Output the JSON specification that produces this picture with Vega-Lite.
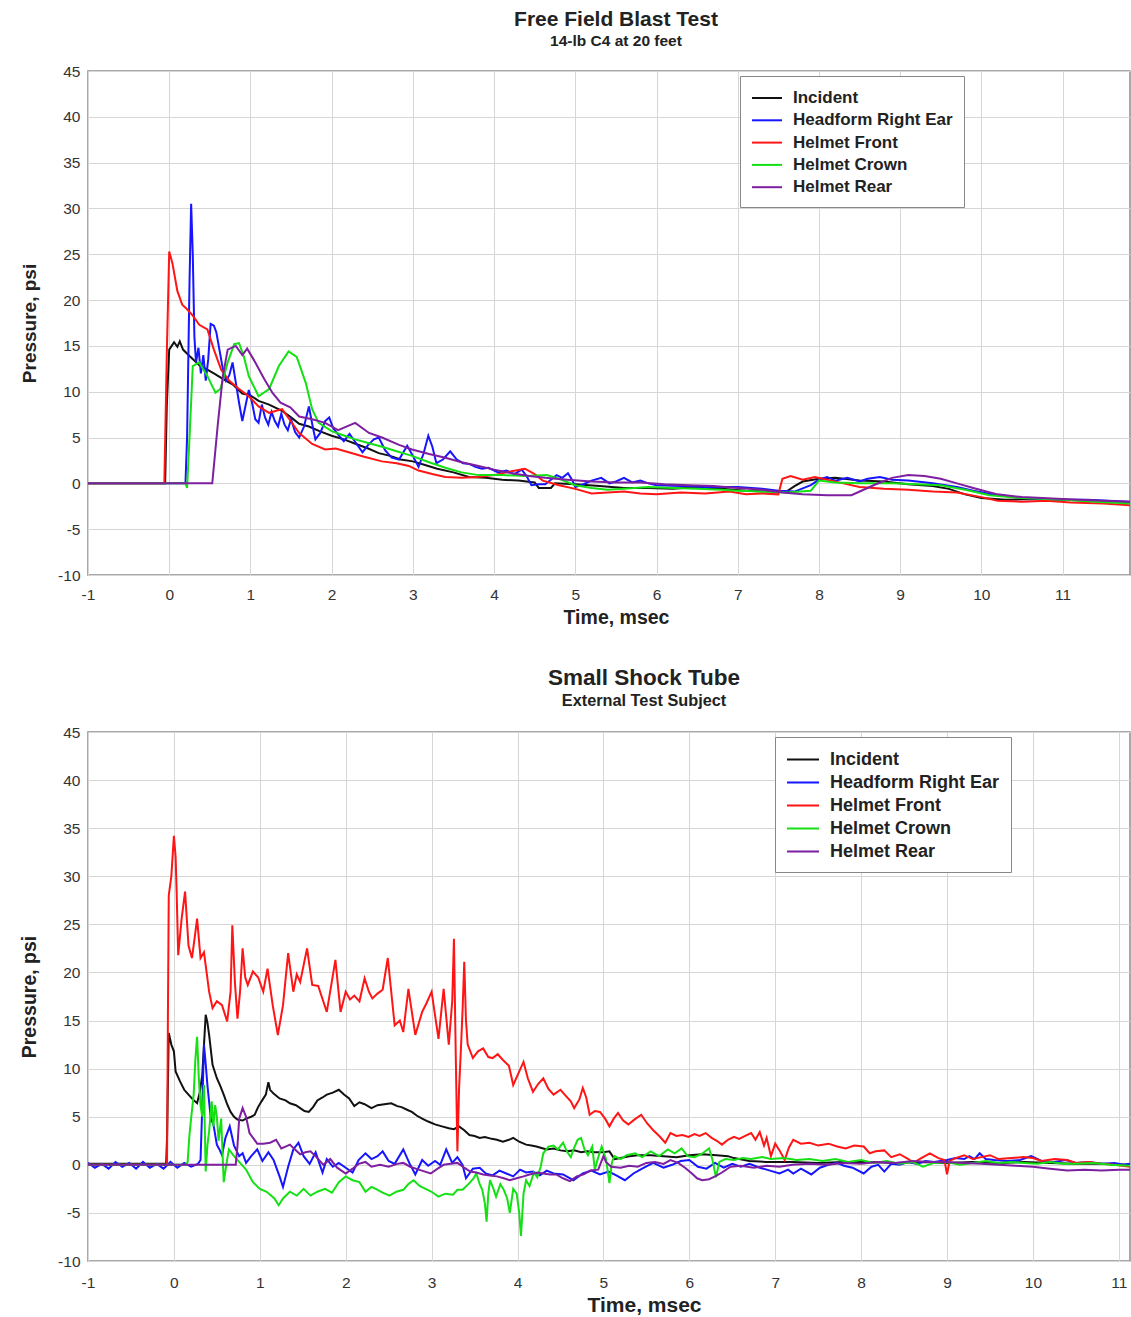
{
"$schema":"https://vega.github.io/schema/vega-lite/v6.json",
"background":"white",
"padding":{"left":18,"top":7,"right":0,"bottom":0},
"spacing":38,
"config":{
"font":"Liberation Sans",
"view":{"stroke":"#8c8c8c","strokeWidth":1.5},
"axis":{"grid":true,"gridColor":"#d6d6d6","gridWidth":1,"ticks":false,"domain":false,"labelColor":"#333333","titleColor":"#222222","titleFontWeight":"bold","labelFontSize":15.5,"labelExpr":"datum.value"},
"title":{"fontWeight":"bold","color":"#222222","subtitleColor":"#222222","subtitleFontWeight":"bold","anchor":"middle"}
},
"datasets":{
"names":[{"k":"A","name":"Incident"},{"k":"B","name":"Headform Right Ear"},{"k":"C","name":"Helmet Front"},{"k":"D","name":"Helmet Crown"},{"k":"E","name":"Helmet Rear"}],
"ff":[
{"k":"A","t":-1,"p":0},{"k":"A","t":-0.05,"p":0},{"k":"A","t":-0.03,"p":8.5},{"k":"A","t":0.0,"p":14.6},{"k":"A","t":0.03,"p":15.0},{"k":"A","t":0.06,"p":15.4},{"k":"A","t":0.1,"p":14.9},{"k":"A","t":0.13,"p":15.5},{"k":"A","t":0.17,"p":14.6},{"k":"A","t":0.25,"p":13.9},{"k":"A","t":0.37,"p":12.9},{"k":"A","t":0.47,"p":12.4},{"k":"A","t":0.57,"p":11.9},{"k":"A","t":0.68,"p":11.3},{"k":"A","t":0.78,"p":10.8},{"k":"A","t":0.9,"p":9.8},{"k":"A","t":1.0,"p":9.6},{"k":"A","t":1.1,"p":9.0},{"k":"A","t":1.23,"p":8.6},{"k":"A","t":1.39,"p":7.9},{"k":"A","t":1.5,"p":7.2},{"k":"A","t":1.6,"p":6.5},{"k":"A","t":1.72,"p":6.2},{"k":"A","t":1.85,"p":5.7},{"k":"A","t":2.0,"p":5.2},{"k":"A","t":2.15,"p":4.8},{"k":"A","t":2.3,"p":4.3},{"k":"A","t":2.45,"p":3.8},{"k":"A","t":2.58,"p":3.3},{"k":"A","t":2.72,"p":3.0},{"k":"A","t":2.85,"p":2.6},{"k":"A","t":3.0,"p":2.4},{"k":"A","t":3.15,"p":2.0},{"k":"A","t":3.3,"p":1.6},{"k":"A","t":3.5,"p":1.2},{"k":"A","t":3.69,"p":0.7},{"k":"A","t":3.9,"p":0.6},{"k":"A","t":4.1,"p":0.4},{"k":"A","t":4.3,"p":0.3},{"k":"A","t":4.5,"p":0.1},{"k":"A","t":4.55,"p":-0.5},{"k":"A","t":4.7,"p":-0.5},{"k":"A","t":4.75,"p":0.0},{"k":"A","t":5.0,"p":-0.1},{"k":"A","t":5.3,"p":-0.3},{"k":"A","t":5.6,"p":-0.5},{"k":"A","t":5.9,"p":-0.5},{"k":"A","t":6.2,"p":-0.6},{"k":"A","t":6.5,"p":-0.4},{"k":"A","t":6.8,"p":-0.6},{"k":"A","t":7.1,"p":-0.8},{"k":"A","t":7.4,"p":-0.9},{"k":"A","t":7.6,"p":-0.9},{"k":"A","t":7.7,"p":-0.3},{"k":"A","t":7.8,"p":0.2},{"k":"A","t":8.0,"p":0.5},{"k":"A","t":8.2,"p":0.6},{"k":"A","t":8.5,"p":0.3},{"k":"A","t":8.8,"p":0.2},{"k":"A","t":9.1,"p":-0.1},{"k":"A","t":9.4,"p":-0.3},{"k":"A","t":9.6,"p":-0.6},{"k":"A","t":9.8,"p":-1.2},{"k":"A","t":10.0,"p":-1.6},{"k":"A","t":10.3,"p":-1.8},{"k":"A","t":10.6,"p":-1.7},{"k":"A","t":11.0,"p":-1.8},{"k":"A","t":11.4,"p":-1.9},{"k":"A","t":11.83,"p":-2.1},
{"k":"B","t":-1,"p":0},{"k":"B","t":0.2,"p":0},{"k":"B","t":0.22,"p":5},{"k":"B","t":0.25,"p":22},{"k":"B","t":0.27,"p":30.5},{"k":"B","t":0.29,"p":25},{"k":"B","t":0.31,"p":16},{"k":"B","t":0.33,"p":13.2},{"k":"B","t":0.36,"p":14.8},{"k":"B","t":0.39,"p":12},{"k":"B","t":0.42,"p":14},{"k":"B","t":0.45,"p":11.2},{"k":"B","t":0.48,"p":13.5},{"k":"B","t":0.51,"p":17.4},{"k":"B","t":0.55,"p":17.2},{"k":"B","t":0.58,"p":16.5},{"k":"B","t":0.62,"p":14.5},{"k":"B","t":0.66,"p":12.5},{"k":"B","t":0.7,"p":11.2},{"k":"B","t":0.74,"p":11.8},{"k":"B","t":0.78,"p":13.2},{"k":"B","t":0.82,"p":11},{"k":"B","t":0.86,"p":8.8},{"k":"B","t":0.9,"p":6.8},{"k":"B","t":0.94,"p":8.5},{"k":"B","t":0.98,"p":10.2},{"k":"B","t":1.02,"p":8.8},{"k":"B","t":1.06,"p":7.0},{"k":"B","t":1.1,"p":6.6},{"k":"B","t":1.14,"p":8.6},{"k":"B","t":1.18,"p":7.2},{"k":"B","t":1.22,"p":6.4},{"k":"B","t":1.26,"p":7.8},{"k":"B","t":1.3,"p":6.8},{"k":"B","t":1.34,"p":6.2},{"k":"B","t":1.38,"p":7.6},{"k":"B","t":1.42,"p":6.4},{"k":"B","t":1.46,"p":5.8},{"k":"B","t":1.5,"p":7.0},{"k":"B","t":1.55,"p":5.6},{"k":"B","t":1.6,"p":5.0},{"k":"B","t":1.66,"p":6.2},{"k":"B","t":1.72,"p":8.4},{"k":"B","t":1.76,"p":6.5},{"k":"B","t":1.8,"p":4.8},{"k":"B","t":1.86,"p":5.5},{"k":"B","t":1.92,"p":6.8},{"k":"B","t":1.97,"p":7.2},{"k":"B","t":2.02,"p":6.0},{"k":"B","t":2.09,"p":5.2},{"k":"B","t":2.15,"p":4.6},{"k":"B","t":2.22,"p":5.4},{"k":"B","t":2.3,"p":4.4},{"k":"B","t":2.38,"p":3.4},{"k":"B","t":2.45,"p":4.2},{"k":"B","t":2.52,"p":4.8},{"k":"B","t":2.58,"p":5.0},{"k":"B","t":2.66,"p":3.6},{"k":"B","t":2.74,"p":2.8},{"k":"B","t":2.83,"p":2.6},{"k":"B","t":2.93,"p":4.1},{"k":"B","t":3.0,"p":3.0},{"k":"B","t":3.07,"p":1.8},{"k":"B","t":3.13,"p":3.2},{"k":"B","t":3.19,"p":5.2},{"k":"B","t":3.24,"p":4.0},{"k":"B","t":3.29,"p":2.2},{"k":"B","t":3.37,"p":2.6},{"k":"B","t":3.46,"p":3.5},{"k":"B","t":3.54,"p":2.6},{"k":"B","t":3.62,"p":2.2},{"k":"B","t":3.7,"p":2.1},{"k":"B","t":3.77,"p":1.8},{"k":"B","t":3.85,"p":1.6},{"k":"B","t":3.93,"p":1.7},{"k":"B","t":4.05,"p":1.2},{"k":"B","t":4.15,"p":1.4},{"k":"B","t":4.25,"p":1.0},{"k":"B","t":4.34,"p":1.5},{"k":"B","t":4.4,"p":0.8},{"k":"B","t":4.46,"p":-0.2},{"k":"B","t":4.55,"p":-0.1},{"k":"B","t":4.63,"p":-0.1},{"k":"B","t":4.7,"p":0.4},{"k":"B","t":4.77,"p":0.9},{"k":"B","t":4.84,"p":0.6},{"k":"B","t":4.91,"p":1.1},{"k":"B","t":4.96,"p":0.4},{"k":"B","t":5.0,"p":-0.4},{"k":"B","t":5.1,"p":-0.1},{"k":"B","t":5.2,"p":0.3},{"k":"B","t":5.32,"p":0.6},{"k":"B","t":5.42,"p":0.0},{"k":"B","t":5.5,"p":0.2},{"k":"B","t":5.6,"p":0.6},{"k":"B","t":5.7,"p":0.1},{"k":"B","t":5.8,"p":0.3},{"k":"B","t":5.9,"p":0.0},{"k":"B","t":6.0,"p":-0.2},{"k":"B","t":6.3,"p":-0.3},{"k":"B","t":6.6,"p":-0.4},{"k":"B","t":7.0,"p":-0.4},{"k":"B","t":7.3,"p":-0.6},{"k":"B","t":7.5,"p":-0.8},{"k":"B","t":7.7,"p":-0.9},{"k":"B","t":7.9,"p":-0.2},{"k":"B","t":8.0,"p":0.4},{"k":"B","t":8.1,"p":0.7},{"k":"B","t":8.2,"p":0.3},{"k":"B","t":8.35,"p":0.6},{"k":"B","t":8.5,"p":0.2},{"k":"B","t":8.6,"p":0.5},{"k":"B","t":8.75,"p":0.7},{"k":"B","t":8.9,"p":0.4},{"k":"B","t":9.1,"p":0.3},{"k":"B","t":9.4,"p":0.0},{"k":"B","t":9.7,"p":-0.4},{"k":"B","t":9.9,"p":-0.8},{"k":"B","t":10.2,"p":-1.3},{"k":"B","t":10.5,"p":-1.6},{"k":"B","t":10.9,"p":-1.8},{"k":"B","t":11.3,"p":-1.8},{"k":"B","t":11.83,"p":-2.0},
{"k":"C","t":-1,"p":0},{"k":"C","t":-0.06,"p":0},{"k":"C","t":-0.03,"p":14},{"k":"C","t":0.0,"p":25.3},{"k":"C","t":0.04,"p":24},{"k":"C","t":0.1,"p":21},{"k":"C","t":0.16,"p":19.5},{"k":"C","t":0.22,"p":19},{"k":"C","t":0.29,"p":18.3},{"k":"C","t":0.37,"p":17.3},{"k":"C","t":0.47,"p":16.8},{"k":"C","t":0.55,"p":14.6},{"k":"C","t":0.64,"p":12.4},{"k":"C","t":0.74,"p":11.2},{"k":"C","t":0.86,"p":10.3},{"k":"C","t":0.98,"p":9.5},{"k":"C","t":1.1,"p":8.4},{"k":"C","t":1.23,"p":7.7},{"k":"C","t":1.39,"p":8.1},{"k":"C","t":1.48,"p":7.0},{"k":"C","t":1.6,"p":5.5},{"k":"C","t":1.76,"p":4.3},{"k":"C","t":1.92,"p":3.7},{"k":"C","t":2.05,"p":3.8},{"k":"C","t":2.21,"p":3.4},{"k":"C","t":2.4,"p":2.9},{"k":"C","t":2.62,"p":2.4},{"k":"C","t":2.8,"p":2.2},{"k":"C","t":2.95,"p":1.9},{"k":"C","t":3.07,"p":1.4},{"k":"C","t":3.25,"p":1.0},{"k":"C","t":3.4,"p":0.7},{"k":"C","t":3.6,"p":0.6},{"k":"C","t":3.8,"p":0.7},{"k":"C","t":4.0,"p":0.9},{"k":"C","t":4.2,"p":1.3},{"k":"C","t":4.38,"p":1.6},{"k":"C","t":4.5,"p":1.0},{"k":"C","t":4.6,"p":0.3},{"k":"C","t":4.8,"p":-0.2},{"k":"C","t":5.0,"p":-0.6},{"k":"C","t":5.2,"p":-1.1},{"k":"C","t":5.4,"p":-1.0},{"k":"C","t":5.6,"p":-0.9},{"k":"C","t":5.8,"p":-1.1},{"k":"C","t":6.0,"p":-1.2},{"k":"C","t":6.3,"p":-1.0},{"k":"C","t":6.6,"p":-1.1},{"k":"C","t":6.9,"p":-0.9},{"k":"C","t":7.1,"p":-1.2},{"k":"C","t":7.3,"p":-1.1},{"k":"C","t":7.5,"p":-1.2},{"k":"C","t":7.55,"p":0.5},{"k":"C","t":7.65,"p":0.8},{"k":"C","t":7.8,"p":0.4},{"k":"C","t":7.95,"p":0.7},{"k":"C","t":8.1,"p":0.4},{"k":"C","t":8.3,"p":0.0},{"k":"C","t":8.5,"p":-0.4},{"k":"C","t":8.8,"p":-0.6},{"k":"C","t":9.1,"p":-0.7},{"k":"C","t":9.4,"p":-0.9},{"k":"C","t":9.7,"p":-1.0},{"k":"C","t":10.0,"p":-1.5},{"k":"C","t":10.2,"p":-1.9},{"k":"C","t":10.5,"p":-2.0},{"k":"C","t":10.8,"p":-1.9},{"k":"C","t":11.1,"p":-2.1},{"k":"C","t":11.5,"p":-2.2},{"k":"C","t":11.83,"p":-2.4},
{"k":"D","t":-1,"p":0},{"k":"D","t":0.2,"p":0},{"k":"D","t":0.22,"p":-0.5},{"k":"D","t":0.25,"p":5},{"k":"D","t":0.29,"p":12.8},{"k":"D","t":0.37,"p":13.2},{"k":"D","t":0.47,"p":11.7},{"k":"D","t":0.57,"p":9.9},{"k":"D","t":0.63,"p":10.3},{"k":"D","t":0.72,"p":13.2},{"k":"D","t":0.8,"p":15.2},{"k":"D","t":0.86,"p":15.3},{"k":"D","t":0.92,"p":13.8},{"k":"D","t":0.98,"p":11.7},{"k":"D","t":1.1,"p":9.5},{"k":"D","t":1.23,"p":10.3},{"k":"D","t":1.35,"p":12.8},{"k":"D","t":1.47,"p":14.4},{"k":"D","t":1.57,"p":13.8},{"k":"D","t":1.68,"p":11.0},{"k":"D","t":1.76,"p":8.1},{"k":"D","t":1.84,"p":6.6},{"k":"D","t":2.0,"p":5.7},{"k":"D","t":2.16,"p":5.2},{"k":"D","t":2.29,"p":4.8},{"k":"D","t":2.45,"p":4.4},{"k":"D","t":2.62,"p":4.0},{"k":"D","t":2.8,"p":3.5},{"k":"D","t":2.99,"p":3.0},{"k":"D","t":3.2,"p":2.3},{"k":"D","t":3.4,"p":1.7},{"k":"D","t":3.6,"p":1.2},{"k":"D","t":3.81,"p":0.9},{"k":"D","t":4.1,"p":0.9},{"k":"D","t":4.4,"p":0.8},{"k":"D","t":4.65,"p":0.9},{"k":"D","t":4.8,"p":0.5},{"k":"D","t":5.0,"p":-0.2},{"k":"D","t":5.2,"p":-0.5},{"k":"D","t":5.4,"p":-0.7},{"k":"D","t":5.6,"p":-0.6},{"k":"D","t":5.9,"p":-0.4},{"k":"D","t":6.2,"p":-0.5},{"k":"D","t":6.5,"p":-0.6},{"k":"D","t":6.8,"p":-0.7},{"k":"D","t":7.0,"p":-0.8},{"k":"D","t":7.3,"p":-0.9},{"k":"D","t":7.6,"p":-1.0},{"k":"D","t":7.9,"p":-0.8},{"k":"D","t":8.0,"p":0.3},{"k":"D","t":8.2,"p":0.1},{"k":"D","t":8.5,"p":0.0},{"k":"D","t":8.9,"p":0.0},{"k":"D","t":9.2,"p":-0.1},{"k":"D","t":9.5,"p":-0.2},{"k":"D","t":9.8,"p":-0.7},{"k":"D","t":10.1,"p":-1.3},{"k":"D","t":10.5,"p":-1.6},{"k":"D","t":11.0,"p":-1.8},{"k":"D","t":11.4,"p":-2.0},{"k":"D","t":11.83,"p":-2.2},
{"k":"E","t":-1,"p":0},{"k":"E","t":0.53,"p":0},{"k":"E","t":0.6,"p":6.6},{"k":"E","t":0.66,"p":11.7},{"k":"E","t":0.72,"p":14.6},{"k":"E","t":0.82,"p":15.0},{"k":"E","t":0.9,"p":14.0},{"k":"E","t":0.96,"p":14.7},{"k":"E","t":1.06,"p":13.2},{"k":"E","t":1.17,"p":11.4},{"k":"E","t":1.27,"p":9.9},{"k":"E","t":1.37,"p":8.8},{"k":"E","t":1.49,"p":8.3},{"k":"E","t":1.6,"p":7.3},{"k":"E","t":1.76,"p":7.0},{"k":"E","t":1.92,"p":6.6},{"k":"E","t":2.08,"p":5.8},{"k":"E","t":2.29,"p":6.6},{"k":"E","t":2.46,"p":5.5},{"k":"E","t":2.62,"p":5.0},{"k":"E","t":2.83,"p":4.2},{"k":"E","t":2.99,"p":3.7},{"k":"E","t":3.2,"p":3.2},{"k":"E","t":3.4,"p":2.8},{"k":"E","t":3.6,"p":2.3},{"k":"E","t":3.81,"p":1.9},{"k":"E","t":4.0,"p":1.5},{"k":"E","t":4.22,"p":1.1},{"k":"E","t":4.43,"p":0.8},{"k":"E","t":4.63,"p":0.6},{"k":"E","t":4.9,"p":0.4},{"k":"E","t":5.2,"p":0.2},{"k":"E","t":5.5,"p":0.1},{"k":"E","t":5.8,"p":0.1},{"k":"E","t":6.1,"p":-0.1},{"k":"E","t":6.4,"p":-0.2},{"k":"E","t":6.7,"p":-0.3},{"k":"E","t":7.0,"p":-0.5},{"k":"E","t":7.3,"p":-0.7},{"k":"E","t":7.55,"p":-1.0},{"k":"E","t":7.8,"p":-1.2},{"k":"E","t":8.1,"p":-1.3},{"k":"E","t":8.4,"p":-1.3},{"k":"E","t":8.55,"p":-0.7},{"k":"E","t":8.7,"p":-0.1},{"k":"E","t":8.9,"p":0.6},{"k":"E","t":9.1,"p":0.9},{"k":"E","t":9.3,"p":0.8},{"k":"E","t":9.5,"p":0.5},{"k":"E","t":9.7,"p":0.0},{"k":"E","t":9.9,"p":-0.5},{"k":"E","t":10.2,"p":-1.2},{"k":"E","t":10.5,"p":-1.5},{"k":"E","t":11.0,"p":-1.7},{"k":"E","t":11.5,"p":-1.9},{"k":"E","t":11.83,"p":-2.0}
],
"st":[
{"k":"A","t":-1,"p":0.1},{"k":"A","t":-0.09,"p":0.1},{"k":"A","t":-0.08,"p":2.8},{"k":"A","t":-0.06,"p":13.7},{"k":"A","t":-0.03,"p":12.5},{"k":"A","t":0.0,"p":11.8},{"k":"A","t":0.02,"p":9.7},{"k":"A","t":0.07,"p":8.7},{"k":"A","t":0.12,"p":7.8},{"k":"A","t":0.17,"p":7.3},{"k":"A","t":0.22,"p":6.8},{"k":"A","t":0.27,"p":6.4},{"k":"A","t":0.3,"p":7.5},{"k":"A","t":0.33,"p":9.3},{"k":"A","t":0.37,"p":15.6},{"k":"A","t":0.39,"p":14.8},{"k":"A","t":0.41,"p":13.5},{"k":"A","t":0.45,"p":10.4},{"k":"A","t":0.5,"p":9.0},{"k":"A","t":0.54,"p":8.2},{"k":"A","t":0.58,"p":7.3},{"k":"A","t":0.62,"p":6.3},{"k":"A","t":0.66,"p":5.5},{"k":"A","t":0.7,"p":5.0},{"k":"A","t":0.74,"p":4.7},{"k":"A","t":0.8,"p":4.6},{"k":"A","t":0.84,"p":4.8},{"k":"A","t":0.9,"p":5.0},{"k":"A","t":0.94,"p":5.2},{"k":"A","t":0.98,"p":6.0},{"k":"A","t":1.02,"p":6.6},{"k":"A","t":1.07,"p":7.3},{"k":"A","t":1.1,"p":8.6},{"k":"A","t":1.12,"p":7.8},{"k":"A","t":1.16,"p":7.4},{"k":"A","t":1.23,"p":6.9},{"k":"A","t":1.3,"p":6.7},{"k":"A","t":1.35,"p":6.4},{"k":"A","t":1.42,"p":6.2},{"k":"A","t":1.47,"p":5.9},{"k":"A","t":1.52,"p":5.6},{"k":"A","t":1.57,"p":5.5},{"k":"A","t":1.62,"p":6.0},{"k":"A","t":1.67,"p":6.7},{"k":"A","t":1.73,"p":7.0},{"k":"A","t":1.78,"p":7.3},{"k":"A","t":1.85,"p":7.5},{"k":"A","t":1.92,"p":7.8},{"k":"A","t":1.98,"p":7.3},{"k":"A","t":2.04,"p":6.9},{"k":"A","t":2.1,"p":6.1},{"k":"A","t":2.16,"p":6.5},{"k":"A","t":2.22,"p":6.3},{"k":"A","t":2.3,"p":5.9},{"k":"A","t":2.37,"p":6.2},{"k":"A","t":2.45,"p":6.3},{"k":"A","t":2.53,"p":6.4},{"k":"A","t":2.6,"p":6.1},{"k":"A","t":2.65,"p":6.0},{"k":"A","t":2.72,"p":5.7},{"k":"A","t":2.77,"p":5.5},{"k":"A","t":2.83,"p":5.1},{"k":"A","t":2.89,"p":4.8},{"k":"A","t":2.96,"p":4.5},{"k":"A","t":3.04,"p":4.2},{"k":"A","t":3.12,"p":4.0},{"k":"A","t":3.2,"p":3.8},{"k":"A","t":3.26,"p":3.7},{"k":"A","t":3.32,"p":4.0},{"k":"A","t":3.38,"p":3.6},{"k":"A","t":3.44,"p":3.1},{"k":"A","t":3.5,"p":3.0},{"k":"A","t":3.56,"p":2.8},{"k":"A","t":3.62,"p":2.9},{"k":"A","t":3.7,"p":2.7},{"k":"A","t":3.76,"p":2.6},{"k":"A","t":3.83,"p":2.4},{"k":"A","t":3.9,"p":2.6},{"k":"A","t":3.95,"p":2.8},{"k":"A","t":4.02,"p":2.4},{"k":"A","t":4.1,"p":2.1},{"k":"A","t":4.16,"p":2.0},{"k":"A","t":4.22,"p":1.9},{"k":"A","t":4.3,"p":1.7},{"k":"A","t":4.34,"p":1.6},{"k":"A","t":4.42,"p":1.7},{"k":"A","t":4.5,"p":1.5},{"k":"A","t":4.58,"p":1.4},{"k":"A","t":4.66,"p":1.5},{"k":"A","t":4.74,"p":1.3},{"k":"A","t":4.81,"p":1.4},{"k":"A","t":4.9,"p":1.3},{"k":"A","t":5.0,"p":1.3},{"k":"A","t":5.07,"p":1.4},{"k":"A","t":5.13,"p":0.6},{"k":"A","t":5.2,"p":0.7},{"k":"A","t":5.3,"p":0.9},{"k":"A","t":5.4,"p":1.0},{"k":"A","t":5.55,"p":1.0},{"k":"A","t":5.7,"p":0.9},{"k":"A","t":5.85,"p":0.8},{"k":"A","t":6.0,"p":1.0},{"k":"A","t":6.15,"p":1.1},{"k":"A","t":6.32,"p":1.0},{"k":"A","t":6.45,"p":0.9},{"k":"A","t":6.52,"p":0.7},{"k":"A","t":6.7,"p":0.4},{"k":"A","t":6.9,"p":0.3},{"k":"A","t":7.2,"p":0.3},{"k":"A","t":7.5,"p":0.2},{"k":"A","t":7.8,"p":0.3},{"k":"A","t":8.1,"p":0.3},{"k":"A","t":8.4,"p":0.2},{"k":"A","t":8.7,"p":0.3},{"k":"A","t":9.0,"p":0.2},{"k":"A","t":9.3,"p":0.3},{"k":"A","t":9.6,"p":0.2},{"k":"A","t":9.9,"p":0.3},{"k":"A","t":10.2,"p":0.2},{"k":"A","t":10.5,"p":0.1},{"k":"A","t":10.8,"p":0.1},{"k":"A","t":11.13,"p":0.0},
{"k":"B","t":-1,"p":0.2},{"k":"B","t":-0.92,"p":-0.3},{"k":"B","t":-0.84,"p":0.1},{"k":"B","t":-0.76,"p":-0.4},{"k":"B","t":-0.68,"p":0.3},{"k":"B","t":-0.6,"p":-0.2},{"k":"B","t":-0.52,"p":0.2},{"k":"B","t":-0.44,"p":-0.4},{"k":"B","t":-0.36,"p":0.3},{"k":"B","t":-0.28,"p":-0.3},{"k":"B","t":-0.2,"p":0.1},{"k":"B","t":-0.12,"p":-0.4},{"k":"B","t":-0.04,"p":0.3},{"k":"B","t":0.04,"p":-0.3},{"k":"B","t":0.12,"p":0.2},{"k":"B","t":0.2,"p":-0.2},{"k":"B","t":0.28,"p":0.1},{"k":"B","t":0.31,"p":0.5},{"k":"B","t":0.33,"p":6},{"k":"B","t":0.35,"p":12.5},{"k":"B","t":0.37,"p":10.5},{"k":"B","t":0.39,"p":8.3},{"k":"B","t":0.43,"p":4.8},{"k":"B","t":0.46,"p":4.2},{"k":"B","t":0.5,"p":2.1},{"k":"B","t":0.53,"p":1.6},{"k":"B","t":0.56,"p":1.0},{"k":"B","t":0.6,"p":2.8},{"k":"B","t":0.65,"p":4.0},{"k":"B","t":0.7,"p":2.0},{"k":"B","t":0.76,"p":0.9},{"k":"B","t":0.8,"p":1.2},{"k":"B","t":0.84,"p":0.2},{"k":"B","t":0.9,"p":0.9},{"k":"B","t":0.97,"p":1.6},{"k":"B","t":1.03,"p":0.4},{"k":"B","t":1.1,"p":1.3},{"k":"B","t":1.16,"p":0.5},{"k":"B","t":1.23,"p":-1.2},{"k":"B","t":1.27,"p":-2.3},{"k":"B","t":1.33,"p":-0.2},{"k":"B","t":1.39,"p":1.6},{"k":"B","t":1.45,"p":2.3},{"k":"B","t":1.51,"p":0.9},{"k":"B","t":1.58,"p":0.1},{"k":"B","t":1.65,"p":1.3},{"k":"B","t":1.73,"p":-0.8},{"k":"B","t":1.78,"p":0.6},{"k":"B","t":1.85,"p":-0.2},{"k":"B","t":1.92,"p":0.2},{"k":"B","t":2.0,"p":-0.3},{"k":"B","t":2.08,"p":-0.8},{"k":"B","t":2.15,"p":0.5},{"k":"B","t":2.23,"p":1.2},{"k":"B","t":2.3,"p":0.6},{"k":"B","t":2.37,"p":0.9},{"k":"B","t":2.43,"p":1.4},{"k":"B","t":2.5,"p":0.4},{"k":"B","t":2.57,"p":0.1},{"k":"B","t":2.67,"p":1.6},{"k":"B","t":2.74,"p":0.2},{"k":"B","t":2.81,"p":-1.0},{"k":"B","t":2.89,"p":0.5},{"k":"B","t":2.96,"p":-0.1},{"k":"B","t":3.04,"p":0.4},{"k":"B","t":3.1,"p":0.0},{"k":"B","t":3.17,"p":1.6},{"k":"B","t":3.24,"p":0.2},{"k":"B","t":3.3,"p":0.8},{"k":"B","t":3.36,"p":0.0},{"k":"B","t":3.4,"p":-1.4},{"k":"B","t":3.48,"p":-0.4},{"k":"B","t":3.56,"p":-0.3},{"k":"B","t":3.63,"p":-0.9},{"k":"B","t":3.71,"p":-1.1},{"k":"B","t":3.79,"p":-0.6},{"k":"B","t":3.87,"p":-0.9},{"k":"B","t":3.95,"p":-1.2},{"k":"B","t":4.03,"p":-0.5},{"k":"B","t":4.1,"p":-0.8},{"k":"B","t":4.18,"p":-0.7},{"k":"B","t":4.26,"p":-1.1},{"k":"B","t":4.34,"p":-0.6},{"k":"B","t":4.42,"p":-0.9},{"k":"B","t":4.53,"p":-1.0},{"k":"B","t":4.65,"p":-1.6},{"k":"B","t":4.76,"p":-0.9},{"k":"B","t":4.86,"p":-0.6},{"k":"B","t":4.96,"p":-1.0},{"k":"B","t":5.06,"p":-0.7},{"k":"B","t":5.15,"p":-1.1},{"k":"B","t":5.25,"p":-1.6},{"k":"B","t":5.35,"p":-0.9},{"k":"B","t":5.45,"p":-0.4},{"k":"B","t":5.58,"p":0.2},{"k":"B","t":5.7,"p":-0.3},{"k":"B","t":5.8,"p":0.0},{"k":"B","t":5.9,"p":0.4},{"k":"B","t":6.0,"p":0.5},{"k":"B","t":6.1,"p":-0.2},{"k":"B","t":6.2,"p":-0.4},{"k":"B","t":6.3,"p":0.2},{"k":"B","t":6.4,"p":-0.3},{"k":"B","t":6.5,"p":0.1},{"k":"B","t":6.6,"p":-0.2},{"k":"B","t":6.7,"p":0.1},{"k":"B","t":6.82,"p":-0.3},{"k":"B","t":6.94,"p":-0.6},{"k":"B","t":7.05,"p":-0.9},{"k":"B","t":7.15,"p":-0.5},{"k":"B","t":7.21,"p":-0.9},{"k":"B","t":7.3,"p":-0.4},{"k":"B","t":7.42,"p":-1.0},{"k":"B","t":7.52,"p":-0.3},{"k":"B","t":7.62,"p":0.0},{"k":"B","t":7.72,"p":0.2},{"k":"B","t":7.8,"p":-0.1},{"k":"B","t":7.9,"p":-0.3},{"k":"B","t":8.03,"p":-0.9},{"k":"B","t":8.12,"p":-0.2},{"k":"B","t":8.2,"p":0.0},{"k":"B","t":8.27,"p":-0.7},{"k":"B","t":8.35,"p":0.1},{"k":"B","t":8.45,"p":0.0},{"k":"B","t":8.55,"p":0.3},{"k":"B","t":8.65,"p":0.1},{"k":"B","t":8.75,"p":0.4},{"k":"B","t":8.85,"p":0.3},{"k":"B","t":9.0,"p":0.5},{"k":"B","t":9.1,"p":0.7},{"k":"B","t":9.2,"p":0.6},{"k":"B","t":9.26,"p":0.9},{"k":"B","t":9.32,"p":0.6},{"k":"B","t":9.38,"p":1.2},{"k":"B","t":9.45,"p":0.6},{"k":"B","t":9.55,"p":0.5},{"k":"B","t":9.7,"p":0.4},{"k":"B","t":9.85,"p":0.5},{"k":"B","t":9.98,"p":0.9},{"k":"B","t":10.1,"p":0.4},{"k":"B","t":10.25,"p":0.3},{"k":"B","t":10.38,"p":0.5},{"k":"B","t":10.5,"p":0.2},{"k":"B","t":10.65,"p":0.3},{"k":"B","t":10.8,"p":0.1},{"k":"B","t":10.95,"p":0.2},{"k":"B","t":11.05,"p":0.0},{"k":"B","t":11.13,"p":0.1},
{"k":"C","t":-1,"p":0},{"k":"C","t":-0.08,"p":0},{"k":"C","t":-0.07,"p":15},{"k":"C","t":-0.06,"p":28},{"k":"C","t":-0.03,"p":30},{"k":"C","t":0.0,"p":34.2},{"k":"C","t":0.02,"p":32},{"k":"C","t":0.03,"p":29},{"k":"C","t":0.05,"p":21.8},{"k":"C","t":0.09,"p":25.6},{"k":"C","t":0.13,"p":28.4},{"k":"C","t":0.17,"p":22.8},{"k":"C","t":0.21,"p":21.5},{"k":"C","t":0.24,"p":23.5},{"k":"C","t":0.27,"p":25.6},{"k":"C","t":0.31,"p":21.5},{"k":"C","t":0.35,"p":22.1},{"k":"C","t":0.41,"p":18.0},{"k":"C","t":0.45,"p":16.3},{"k":"C","t":0.5,"p":17.0},{"k":"C","t":0.56,"p":16.6},{"k":"C","t":0.62,"p":14.9},{"k":"C","t":0.66,"p":18},{"k":"C","t":0.68,"p":24.9},{"k":"C","t":0.71,"p":19},{"k":"C","t":0.74,"p":15.2},{"k":"C","t":0.77,"p":18},{"k":"C","t":0.8,"p":22.5},{"k":"C","t":0.83,"p":19.5},{"k":"C","t":0.86,"p":18.7},{"k":"C","t":0.92,"p":20.1},{"k":"C","t":0.98,"p":19.5},{"k":"C","t":1.04,"p":18.0},{"k":"C","t":1.09,"p":20.4},{"k":"C","t":1.15,"p":16.6},{"k":"C","t":1.21,"p":13.5},{"k":"C","t":1.27,"p":16.6},{"k":"C","t":1.33,"p":22.0},{"k":"C","t":1.36,"p":20},{"k":"C","t":1.39,"p":18.0},{"k":"C","t":1.43,"p":19.8},{"k":"C","t":1.47,"p":19.0},{"k":"C","t":1.55,"p":22.5},{"k":"C","t":1.61,"p":18.7},{"k":"C","t":1.68,"p":18.6},{"k":"C","t":1.72,"p":17.5},{"k":"C","t":1.78,"p":15.9},{"k":"C","t":1.88,"p":21.3},{"k":"C","t":1.94,"p":15.9},{"k":"C","t":2.0,"p":18.0},{"k":"C","t":2.05,"p":17.2},{"k":"C","t":2.1,"p":17.6},{"k":"C","t":2.16,"p":17.0},{"k":"C","t":2.22,"p":19.4},{"k":"C","t":2.27,"p":18.0},{"k":"C","t":2.31,"p":17.3},{"k":"C","t":2.37,"p":17.8},{"k":"C","t":2.43,"p":18.2},{"k":"C","t":2.49,"p":21.5},{"k":"C","t":2.57,"p":14.5},{"k":"C","t":2.63,"p":15.0},{"k":"C","t":2.67,"p":13.8},{"k":"C","t":2.73,"p":18.3},{"k":"C","t":2.81,"p":13.5},{"k":"C","t":2.89,"p":15.9},{"k":"C","t":2.94,"p":16.8},{"k":"C","t":3.0,"p":18.0},{"k":"C","t":3.08,"p":13.1},{"k":"C","t":3.14,"p":18.3},{"k":"C","t":3.2,"p":12.5},{"k":"C","t":3.24,"p":17},{"k":"C","t":3.26,"p":23.5},{"k":"C","t":3.28,"p":12},{"k":"C","t":3.3,"p":1.4},{"k":"C","t":3.32,"p":8},{"k":"C","t":3.34,"p":11.8},{"k":"C","t":3.36,"p":16},{"k":"C","t":3.38,"p":21.1},{"k":"C","t":3.4,"p":15},{"k":"C","t":3.42,"p":12.5},{"k":"C","t":3.48,"p":11.1},{"k":"C","t":3.54,"p":11.8},{"k":"C","t":3.6,"p":12.1},{"k":"C","t":3.66,"p":11.2},{"k":"C","t":3.71,"p":11.1},{"k":"C","t":3.77,"p":11.5},{"k":"C","t":3.83,"p":10.9},{"k":"C","t":3.9,"p":10.3},{"k":"C","t":3.95,"p":8.3},{"k":"C","t":4.01,"p":9.5},{"k":"C","t":4.07,"p":10.7},{"k":"C","t":4.12,"p":9.0},{"k":"C","t":4.18,"p":7.6},{"k":"C","t":4.24,"p":8.4},{"k":"C","t":4.3,"p":9.0},{"k":"C","t":4.36,"p":7.9},{"k":"C","t":4.42,"p":7.3},{"k":"C","t":4.5,"p":7.8},{"k":"C","t":4.56,"p":7.2},{"k":"C","t":4.62,"p":6.6},{"k":"C","t":4.66,"p":5.9},{"k":"C","t":4.72,"p":6.8},{"k":"C","t":4.76,"p":8.0},{"k":"C","t":4.8,"p":7.0},{"k":"C","t":4.84,"p":5.2},{"k":"C","t":4.9,"p":5.6},{"k":"C","t":4.96,"p":5.5},{"k":"C","t":5.02,"p":4.8},{"k":"C","t":5.07,"p":4.0},{"k":"C","t":5.12,"p":4.8},{"k":"C","t":5.17,"p":5.4},{"k":"C","t":5.23,"p":4.6},{"k":"C","t":5.29,"p":4.2},{"k":"C","t":5.36,"p":4.7},{"k":"C","t":5.44,"p":5.2},{"k":"C","t":5.51,"p":4.3},{"k":"C","t":5.58,"p":3.6},{"k":"C","t":5.65,"p":3.0},{"k":"C","t":5.72,"p":2.3},{"k":"C","t":5.78,"p":3.3},{"k":"C","t":5.85,"p":3.0},{"k":"C","t":5.92,"p":3.1},{"k":"C","t":5.99,"p":2.9},{"k":"C","t":6.06,"p":3.2},{"k":"C","t":6.12,"p":3.0},{"k":"C","t":6.19,"p":3.3},{"k":"C","t":6.26,"p":2.8},{"k":"C","t":6.32,"p":2.5},{"k":"C","t":6.38,"p":2.1},{"k":"C","t":6.45,"p":2.6},{"k":"C","t":6.52,"p":2.9},{"k":"C","t":6.58,"p":2.7},{"k":"C","t":6.65,"p":3.0},{"k":"C","t":6.72,"p":3.3},{"k":"C","t":6.77,"p":2.6},{"k":"C","t":6.82,"p":3.4},{"k":"C","t":6.87,"p":2.0},{"k":"C","t":6.9,"p":2.8},{"k":"C","t":6.95,"p":0.9},{"k":"C","t":7.0,"p":2.2},{"k":"C","t":7.05,"p":1.5},{"k":"C","t":7.11,"p":0.5},{"k":"C","t":7.16,"p":1.8},{"k":"C","t":7.21,"p":2.6},{"k":"C","t":7.3,"p":2.2},{"k":"C","t":7.4,"p":2.3},{"k":"C","t":7.5,"p":2.0},{"k":"C","t":7.62,"p":2.2},{"k":"C","t":7.72,"p":1.9},{"k":"C","t":7.82,"p":1.7},{"k":"C","t":7.92,"p":2.0},{"k":"C","t":8.03,"p":1.9},{"k":"C","t":8.1,"p":1.2},{"k":"C","t":8.17,"p":1.4},{"k":"C","t":8.27,"p":1.5},{"k":"C","t":8.35,"p":0.8},{"k":"C","t":8.45,"p":1.1},{"k":"C","t":8.55,"p":0.6},{"k":"C","t":8.61,"p":0.2},{"k":"C","t":8.7,"p":0.7},{"k":"C","t":8.8,"p":1.2},{"k":"C","t":8.9,"p":0.7},{"k":"C","t":8.97,"p":0.5},{"k":"C","t":9.0,"p":-1.0},{"k":"C","t":9.03,"p":0.4},{"k":"C","t":9.1,"p":0.7},{"k":"C","t":9.2,"p":1.0},{"k":"C","t":9.3,"p":0.6},{"k":"C","t":9.4,"p":0.8},{"k":"C","t":9.5,"p":1.0},{"k":"C","t":9.6,"p":0.6},{"k":"C","t":9.75,"p":0.7},{"k":"C","t":9.89,"p":0.8},{"k":"C","t":10.0,"p":0.7},{"k":"C","t":10.1,"p":0.4},{"k":"C","t":10.25,"p":0.6},{"k":"C","t":10.4,"p":0.5},{"k":"C","t":10.5,"p":0.2},{"k":"C","t":10.65,"p":0.3},{"k":"C","t":10.8,"p":0.1},{"k":"C","t":10.95,"p":0.0},{"k":"C","t":11.13,"p":-0.2},
{"k":"D","t":-1,"p":0},{"k":"D","t":0.14,"p":0},{"k":"D","t":0.16,"p":0.3},{"k":"D","t":0.18,"p":3},{"k":"D","t":0.2,"p":4.8},{"k":"D","t":0.23,"p":7.3},{"k":"D","t":0.25,"p":11},{"k":"D","t":0.27,"p":13.3},{"k":"D","t":0.29,"p":9},{"k":"D","t":0.31,"p":6.2},{"k":"D","t":0.33,"p":5.0},{"k":"D","t":0.35,"p":8.3},{"k":"D","t":0.37,"p":-0.7},{"k":"D","t":0.39,"p":2},{"k":"D","t":0.41,"p":3.5},{"k":"D","t":0.44,"p":6.6},{"k":"D","t":0.46,"p":4.0},{"k":"D","t":0.48,"p":6.2},{"k":"D","t":0.5,"p":5.0},{"k":"D","t":0.52,"p":2.5},{"k":"D","t":0.55,"p":4.8},{"k":"D","t":0.58,"p":-1.8},{"k":"D","t":0.61,"p":0.0},{"k":"D","t":0.64,"p":1.6},{"k":"D","t":0.7,"p":0.9},{"k":"D","t":0.77,"p":0.2},{"k":"D","t":0.84,"p":-0.5},{"k":"D","t":0.92,"p":-1.8},{"k":"D","t":1.0,"p":-2.5},{"k":"D","t":1.08,"p":-2.8},{"k":"D","t":1.17,"p":-3.5},{"k":"D","t":1.22,"p":-4.2},{"k":"D","t":1.27,"p":-3.5},{"k":"D","t":1.35,"p":-2.8},{"k":"D","t":1.43,"p":-3.2},{"k":"D","t":1.51,"p":-2.5},{"k":"D","t":1.59,"p":-3.2},{"k":"D","t":1.67,"p":-2.8},{"k":"D","t":1.76,"p":-2.5},{"k":"D","t":1.84,"p":-2.9},{"k":"D","t":1.92,"p":-1.8},{"k":"D","t":2.0,"p":-1.2},{"k":"D","t":2.08,"p":-1.6},{"k":"D","t":2.16,"p":-1.8},{"k":"D","t":2.23,"p":-2.8},{"k":"D","t":2.3,"p":-2.3},{"k":"D","t":2.35,"p":-2.5},{"k":"D","t":2.43,"p":-2.9},{"k":"D","t":2.51,"p":-3.2},{"k":"D","t":2.59,"p":-2.8},{"k":"D","t":2.67,"p":-2.6},{"k":"D","t":2.73,"p":-2.0},{"k":"D","t":2.79,"p":-1.6},{"k":"D","t":2.86,"p":-2.2},{"k":"D","t":2.93,"p":-2.5},{"k":"D","t":3.0,"p":-2.8},{"k":"D","t":3.08,"p":-3.3},{"k":"D","t":3.16,"p":-3.0},{"k":"D","t":3.25,"p":-3.1},{"k":"D","t":3.3,"p":-2.6},{"k":"D","t":3.36,"p":-2.6},{"k":"D","t":3.44,"p":-1.9},{"k":"D","t":3.49,"p":-1.4},{"k":"D","t":3.52,"p":-0.9},{"k":"D","t":3.56,"p":-2.0},{"k":"D","t":3.59,"p":-2.6},{"k":"D","t":3.62,"p":-4},{"k":"D","t":3.64,"p":-5.9},{"k":"D","t":3.66,"p":-3.0},{"k":"D","t":3.68,"p":-1.6},{"k":"D","t":3.72,"p":-2.5},{"k":"D","t":3.75,"p":-3.3},{"k":"D","t":3.8,"p":-2.0},{"k":"D","t":3.84,"p":-2.6},{"k":"D","t":3.88,"p":-3.5},{"k":"D","t":3.91,"p":-5.0},{"k":"D","t":3.95,"p":-2.5},{"k":"D","t":3.99,"p":-3.0},{"k":"D","t":4.02,"p":-5},{"k":"D","t":4.04,"p":-7.4},{"k":"D","t":4.07,"p":-3.0},{"k":"D","t":4.1,"p":-1.6},{"k":"D","t":4.14,"p":-2.2},{"k":"D","t":4.19,"p":-0.8},{"k":"D","t":4.23,"p":-1.3},{"k":"D","t":4.27,"p":-0.2},{"k":"D","t":4.3,"p":1.2},{"k":"D","t":4.36,"p":1.9},{"k":"D","t":4.42,"p":2.0},{"k":"D","t":4.47,"p":1.6},{"k":"D","t":4.53,"p":2.3},{"k":"D","t":4.58,"p":1.3},{"k":"D","t":4.62,"p":0.8},{"k":"D","t":4.66,"p":1.8},{"k":"D","t":4.7,"p":2.6},{"k":"D","t":4.74,"p":2.8},{"k":"D","t":4.78,"p":1.6},{"k":"D","t":4.82,"p":1.0},{"k":"D","t":4.87,"p":1.9},{"k":"D","t":4.9,"p":-0.5},{"k":"D","t":4.94,"p":0.8},{"k":"D","t":4.98,"p":1.9},{"k":"D","t":5.03,"p":0.6},{"k":"D","t":5.07,"p":-1.9},{"k":"D","t":5.1,"p":0.3},{"k":"D","t":5.13,"p":0.9},{"k":"D","t":5.2,"p":0.6},{"k":"D","t":5.27,"p":1.0},{"k":"D","t":5.37,"p":1.2},{"k":"D","t":5.45,"p":0.8},{"k":"D","t":5.55,"p":1.4},{"k":"D","t":5.65,"p":0.9},{"k":"D","t":5.75,"p":1.6},{"k":"D","t":5.83,"p":1.2},{"k":"D","t":5.91,"p":1.7},{"k":"D","t":5.98,"p":0.9},{"k":"D","t":6.06,"p":0.8},{"k":"D","t":6.14,"p":1.1},{"k":"D","t":6.23,"p":1.7},{"k":"D","t":6.27,"p":0.5},{"k":"D","t":6.31,"p":-1.3},{"k":"D","t":6.35,"p":0.3},{"k":"D","t":6.42,"p":0.6},{"k":"D","t":6.52,"p":0.5},{"k":"D","t":6.62,"p":0.7},{"k":"D","t":6.72,"p":0.6},{"k":"D","t":6.85,"p":0.8},{"k":"D","t":6.95,"p":0.6},{"k":"D","t":7.1,"p":0.7},{"k":"D","t":7.25,"p":0.5},{"k":"D","t":7.4,"p":0.6},{"k":"D","t":7.55,"p":0.4},{"k":"D","t":7.7,"p":0.6},{"k":"D","t":7.85,"p":0.3},{"k":"D","t":8.0,"p":0.5},{"k":"D","t":8.15,"p":0.2},{"k":"D","t":8.3,"p":0.4},{"k":"D","t":8.45,"p":0.1},{"k":"D","t":8.6,"p":0.3},{"k":"D","t":8.72,"p":-0.2},{"k":"D","t":8.85,"p":0.2},{"k":"D","t":9.0,"p":0.3},{"k":"D","t":9.15,"p":0.0},{"k":"D","t":9.3,"p":0.2},{"k":"D","t":9.45,"p":0.4},{"k":"D","t":9.6,"p":0.2},{"k":"D","t":9.75,"p":0.3},{"k":"D","t":9.9,"p":0.2},{"k":"D","t":10.05,"p":0.1},{"k":"D","t":10.2,"p":0.3},{"k":"D","t":10.35,"p":0.1},{"k":"D","t":10.5,"p":0.1},{"k":"D","t":10.7,"p":0.2},{"k":"D","t":10.9,"p":0.0},{"k":"D","t":11.13,"p":-0.1},
{"k":"E","t":-1,"p":0},{"k":"E","t":0.72,"p":0},{"k":"E","t":0.74,"p":2},{"k":"E","t":0.76,"p":4.8},{"k":"E","t":0.8,"p":5.9},{"k":"E","t":0.84,"p":5.0},{"k":"E","t":0.88,"p":3.3},{"k":"E","t":0.93,"p":2.7},{"k":"E","t":0.97,"p":2.2},{"k":"E","t":1.04,"p":2.2},{"k":"E","t":1.12,"p":2.3},{"k":"E","t":1.19,"p":2.6},{"k":"E","t":1.25,"p":1.7},{"k":"E","t":1.3,"p":1.9},{"k":"E","t":1.35,"p":2.1},{"k":"E","t":1.41,"p":1.6},{"k":"E","t":1.47,"p":1.1},{"k":"E","t":1.53,"p":1.3},{"k":"E","t":1.59,"p":1.4},{"k":"E","t":1.66,"p":0.8},{"k":"E","t":1.74,"p":0.0},{"k":"E","t":1.82,"p":0.6},{"k":"E","t":1.9,"p":-0.3},{"k":"E","t":2.0,"p":-0.9},{"k":"E","t":2.08,"p":-0.4},{"k":"E","t":2.15,"p":0.1},{"k":"E","t":2.23,"p":0.3},{"k":"E","t":2.3,"p":-0.2},{"k":"E","t":2.4,"p":0.0},{"k":"E","t":2.5,"p":-0.2},{"k":"E","t":2.6,"p":0.1},{"k":"E","t":2.67,"p":0.2},{"k":"E","t":2.75,"p":-0.2},{"k":"E","t":2.85,"p":-0.5},{"k":"E","t":2.99,"p":-0.9},{"k":"E","t":3.07,"p":-0.4},{"k":"E","t":3.14,"p":0.0},{"k":"E","t":3.22,"p":0.1},{"k":"E","t":3.3,"p":0.2},{"k":"E","t":3.38,"p":-0.3},{"k":"E","t":3.45,"p":-0.7},{"k":"E","t":3.52,"p":-0.8},{"k":"E","t":3.6,"p":-1.0},{"k":"E","t":3.68,"p":-1.1},{"k":"E","t":3.76,"p":-1.2},{"k":"E","t":3.84,"p":-1.4},{"k":"E","t":3.91,"p":-1.6},{"k":"E","t":3.99,"p":-1.4},{"k":"E","t":4.07,"p":-1.2},{"k":"E","t":4.14,"p":-1.0},{"k":"E","t":4.23,"p":-0.8},{"k":"E","t":4.3,"p":-0.9},{"k":"E","t":4.38,"p":-1.0},{"k":"E","t":4.45,"p":-1.0},{"k":"E","t":4.53,"p":-1.4},{"k":"E","t":4.61,"p":-1.7},{"k":"E","t":4.69,"p":-1.2},{"k":"E","t":4.77,"p":-1.0},{"k":"E","t":4.85,"p":-0.6},{"k":"E","t":4.94,"p":-0.5},{"k":"E","t":5.0,"p":0.9},{"k":"E","t":5.03,"p":0.3},{"k":"E","t":5.09,"p":-0.2},{"k":"E","t":5.2,"p":-0.3},{"k":"E","t":5.3,"p":-0.1},{"k":"E","t":5.4,"p":-0.2},{"k":"E","t":5.5,"p":0.2},{"k":"E","t":5.6,"p":0.3},{"k":"E","t":5.7,"p":0.1},{"k":"E","t":5.78,"p":0.5},{"k":"E","t":5.87,"p":0.2},{"k":"E","t":5.95,"p":-0.3},{"k":"E","t":6.03,"p":-0.9},{"k":"E","t":6.09,"p":-1.4},{"k":"E","t":6.15,"p":-1.6},{"k":"E","t":6.23,"p":-1.5},{"k":"E","t":6.3,"p":-1.2},{"k":"E","t":6.38,"p":-0.8},{"k":"E","t":6.48,"p":-0.2},{"k":"E","t":6.6,"p":-0.1},{"k":"E","t":6.75,"p":-0.3},{"k":"E","t":6.9,"p":-0.1},{"k":"E","t":7.05,"p":-0.2},{"k":"E","t":7.2,"p":0.0},{"k":"E","t":7.4,"p":0.1},{"k":"E","t":7.6,"p":0.0},{"k":"E","t":7.8,"p":0.2},{"k":"E","t":8.0,"p":0.1},{"k":"E","t":8.2,"p":0.3},{"k":"E","t":8.4,"p":0.2},{"k":"E","t":8.6,"p":0.4},{"k":"E","t":8.8,"p":0.3},{"k":"E","t":9.0,"p":0.3},{"k":"E","t":9.2,"p":0.2},{"k":"E","t":9.4,"p":0.1},{"k":"E","t":9.6,"p":0.0},{"k":"E","t":9.8,"p":-0.1},{"k":"E","t":10.0,"p":-0.2},{"k":"E","t":10.2,"p":-0.4},{"k":"E","t":10.4,"p":-0.6},{"k":"E","t":10.6,"p":-0.5},{"k":"E","t":10.8,"p":-0.6},{"k":"E","t":11.0,"p":-0.5},{"k":"E","t":11.13,"p":-0.5}
]
},
"vconcat":[
{
"data":{"name":"ff"},
"transform":[{"lookup":"k","from":{"data":{"name":"names"},"key":"k","fields":["name"]}}],
"title":{"text":"Free Field Blast Test","subtitle":"14-lb C4 at 20 feet","fontSize":21,"subtitleFontSize":15.5,"subtitlePadding":4,"offset":15,"dx":7},
"width":1042,"height":504,
"mark":{"type":"line","strokeWidth":2,"clip":true},
"encoding":{
"x":{"field":"t","type":"quantitative","scale":{"domain":[-1,11.83],"nice":false,"zero":false},"axis":{"values":[-1,0,1,2,3,4,5,6,7,8,9,10,11],"title":"Time, msec","titleFontSize":19.5,"labelPadding":12,"titlePadding":6,"titleX":528,"labelFlush":false}},
"y":{"field":"p","type":"quantitative","scale":{"domain":[-10,45],"nice":false,"zero":false},"axis":{"values":[-10,-5,0,5,10,15,20,25,30,35,40,45],"title":"Pressure, psi","titleFontSize":19,"labelPadding":8,"titlePadding":18}},
"color":{"field":"name","type":"nominal","sort":["Incident","Headform Right Ear","Helmet Front","Helmet Crown","Helmet Rear"],"scale":{"domain":["Incident","Headform Right Ear","Helmet Front","Helmet Crown","Helmet Rear"],"range":["#111111","#1515ff","#ff1515","#14e014","#7d1fa0"]},"legend":{"title":null,"orient":"none","legendX":652,"legendY":5,"symbolType":"M-1,0H2","symbolSize":400,"symbolStrokeWidth":2,"labelFontSize":17,"labelFontWeight":"bold","labelColor":"#222222","labelOffset":20,"rowPadding":3.3,"padding":11,"strokeColor":"#888888","fillColor":"white","labelLimit":400}}
}
},
{
"data":{"name":"st"},
"transform":[{"lookup":"k","from":{"data":{"name":"names"},"key":"k","fields":["name"]}}],
"title":{"text":"Small Shock Tube","subtitle":"External Test Subject","fontSize":22.5,"subtitleFontSize":16.3,"subtitlePadding":3,"offset":16,"dx":35},
"width":1042,"height":529,
"mark":{"type":"line","strokeWidth":2,"clip":true},
"encoding":{
"x":{"field":"t","type":"quantitative","scale":{"domain":[-1,11.13],"nice":false,"zero":false},"axis":{"values":[-1,0,1,2,3,4,5,6,7,8,9,10,11],"title":"Time, msec","titleFontSize":21,"labelPadding":14,"titlePadding":4,"titleX":556,"labelFlush":false}},
"y":{"field":"p","type":"quantitative","scale":{"domain":[-10,45],"nice":false,"zero":false},"axis":{"values":[-10,-5,0,5,10,15,20,25,30,35,40,45],"title":"Pressure, psi","titleFontSize":19.5,"labelPadding":8,"titlePadding":18}},
"color":{"field":"name","type":"nominal","sort":["Incident","Headform Right Ear","Helmet Front","Helmet Crown","Helmet Rear"],"scale":{"domain":["Incident","Headform Right Ear","Helmet Front","Helmet Crown","Helmet Rear"],"range":["#111111","#1515ff","#ff1515","#14e014","#7d1fa0"]},"legend":{"title":null,"orient":"none","legendX":687,"legendY":5,"symbolType":"M-1,0H2.05","symbolSize":441,"symbolStrokeWidth":2,"labelFontSize":18,"labelFontWeight":"bold","labelColor":"#222222","labelOffset":21,"rowPadding":2,"padding":11,"strokeColor":"#888888","fillColor":"white","labelLimit":400}}
}
}
],
"resolve":{"scale":{"color":"independent","x":"independent","y":"independent"},"legend":{"color":"independent"}}
}
